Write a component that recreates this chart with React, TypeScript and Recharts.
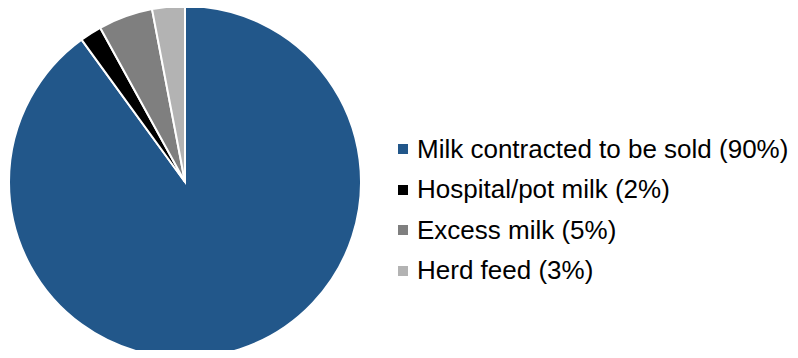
import React from 'react';
import { PieChart, Pie, Cell } from 'recharts';

const labels = [
  'Milk contracted to be sold (90%)',
  'Hospital/pot milk (2%)',
  'Excess milk (5%)',
  'Herd feed (3%)',
];
const shares = [90, 2, 5, 3];
const colors = ['#22578A', '#000000', '#7F7F7F', '#B3B3B3'];

const data = labels.map((name, i) => ({ name, value: shares[i] }));

const App: React.FC = () => {
  return (
    <div style={{ margin: -8, width: 798, height: 358, position: 'relative', overflow: 'hidden' }}>
      <PieChart width={798} height={358} margin={{ top: 0, right: 0, bottom: 0, left: 0 }}>
        <Pie
          data={data}
          dataKey="value"
          nameKey="name"
          cx={185}
          cy={182}
          outerRadius={176}
          startAngle={90}
          endAngle={-270}
          stroke="#ffffff"
          strokeWidth={2}
          isAnimationActive={false}
        >
          {data.map((d, i) => (
            <Cell key={d.name} fill={colors[i]} />
          ))}
        </Pie>
      </PieChart>
      {/* legend drawn as plain html so it doesn't shift the pie */}
      <div
        style={{
          position: 'absolute',
          left: 398,
          top: 129,
          fontFamily: 'Liberation Sans, Arial, sans-serif',
          fontSize: 26,
          color: '#000',
        }}
      >
        {labels.map((label, i) => (
          <div key={label} style={{ display: 'flex', alignItems: 'center', height: 40.5 }}>
            <span
              style={{
                display: 'inline-block',
                width: 10,
                height: 10,
                background: colors[i],
                marginRight: 9,
              }}
            />
            <span style={{ whiteSpace: 'nowrap' }}>{label}</span>
          </div>
        ))}
      </div>
    </div>
  );
};

export default App;
